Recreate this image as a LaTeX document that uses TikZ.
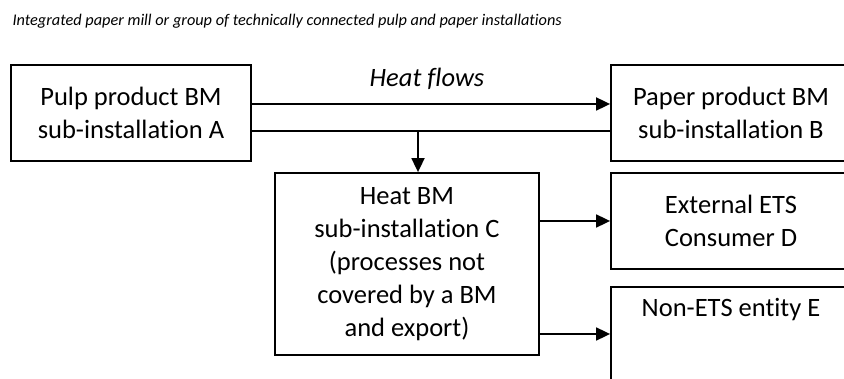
\documentclass[tikz,border=0pt]{standalone}
\usepackage{fontspec}
\setmainfont{Carlito}[Ligatures={NoCommon,NoContextual,NoRare}]
\usetikzlibrary{arrows.meta}
\begin{document}
\begin{tikzpicture}[x=1pt,y=-1pt,
  box/.style={draw,line width=1.8pt,rectangle,align=center,inner sep=0pt,
    font=\fontsize{26.5}{33}\selectfont},
  arr/.style={line width=1.8pt,-{Triangle[length=14pt,width=13pt]}},
  ln/.style={line width=1.8pt}]
\useasboundingbox (0,0) rectangle (844,379);
\node[anchor=west,font=\fontsize{16.3}{20}\selectfont\itshape] (T) at (9,21)
  {Integrated paper mill or group of technically connected pulp and paper installations};
\node[box,minimum width=240,minimum height=96] (A) at (131,113)
  {Pulp product BM\\sub-installation A};
\node[box,minimum width=240,minimum height=96] (B) at (731,113)
  {Paper product BM\\sub-installation B};
\node[box,minimum width=264,minimum height=182] (C) at (407,264)
  {Heat BM\\sub-installation C\\(processes not\\covered by a BM\\and export)};
\node[box,minimum width=240,minimum height=96] (D) at (731,221)
  {External ETS\\Consumer D};
\node[box,minimum width=240,minimum height=130,anchor=north] (E) at (731,286) {};
\node[font=\fontsize{26.5}{33}\selectfont] (Et) at (731,310) {Non-ETS entity E};
\node[font=\fontsize{26.5}{33}\selectfont\itshape] (HF) at (427,79) {Heat flows};
\coordinate (H1) at (0,104);
\coordinate (H2) at (0,131);
\coordinate (J) at (418,131);
\coordinate (H3) at (0,334);
\draw[arr] (A.east |- H1) -- (B.west |- H1);
\draw[ln] (A.east |- H2) -- (B.west |- H2);
\draw[arr] (J) -- (J |- C.north);
\draw[arr] (C.east |- D.west) -- (D.west);
\draw[arr] (C.east |- H3) -- (E.west |- H3);
\end{tikzpicture}
\end{document}
